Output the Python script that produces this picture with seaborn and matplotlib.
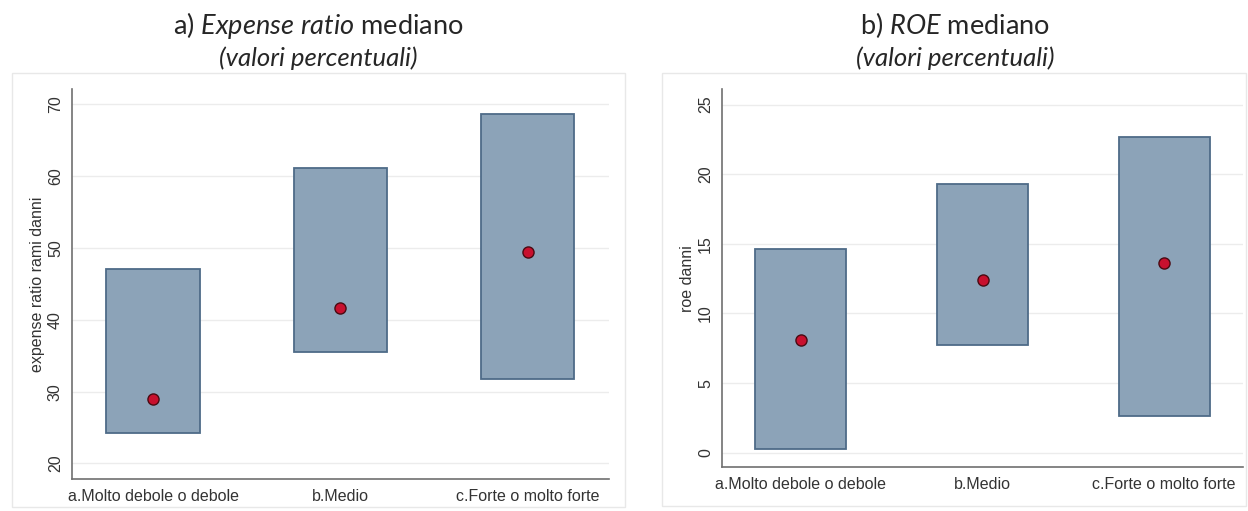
import numpy as np
import seaborn as sns
import matplotlib.pyplot as plt
from matplotlib.patches import Rectangle

# dati (valori percentuali)
categorie = ["a.Molto debole o debole", "b.Medio", "c.Forte o molto forte"]

expense_basso = [24.2, 35.5, 31.8]
expense_alto = [47.1, 61.1, 68.7]
expense_mediana = [29.0, 41.6, 49.5]

roe_basso = [0.25, 7.7, 2.6]
roe_alto = [14.6, 19.3, 22.7]
roe_mediana = [8.1, 12.4, 13.6]

sns.set_style("white")
plt.rcParams["font.family"] = ["Liberation Sans", "DejaVu Sans"]
plt.rcParams["mathtext.fontset"] = "custom"
plt.rcParams["mathtext.rm"] = "Lato"
plt.rcParams["mathtext.it"] = "Lato:italic"

W, H = 1248, 511
fig = plt.figure(figsize=(W / 100, H / 100), dpi=100)


def assi_px(x0, x1, y0, y1):
    return fig.add_axes([x0 / W, 1 - y1 / H, (x1 - x0) / W, (y1 - y0) / H])


def pannello(ax, basso, alto, mediana, ylim, yticks, ylabel):
    altezza = np.array(alto) - np.array(basso)
    sns.barplot(x=categorie, y=altezza, bottom=basso, ax=ax, color="#8ca3b8",
                saturation=1, edgecolor="#4e6b88", linewidth=1.3, width=0.5,
                errorbar=None, zorder=2)
    sns.stripplot(x=categorie, y=mediana, ax=ax, jitter=False, size=8,
                  color="#c8102e", edgecolor="#4a0a12", linewidth=1, zorder=3)
    ax.set_xlim(-0.435, 2.435)
    ax.set_ylim(*ylim)
    ax.set_yticks(yticks)
    ax.grid(axis="y", color="#ececec", lw=1)
    ax.set_axisbelow(True)
    for s in ["top", "right"]:
        ax.spines[s].set_visible(False)
    for s in ["left", "bottom"]:
        ax.spines[s].set_color("#707070")
        ax.spines[s].set_linewidth(1.2)
    ax.tick_params(axis="y", length=4.8, width=1, color="#707070", pad=1.5,
                   labelsize=11.5, labelcolor="#333333")
    ax.tick_params(axis="x", length=0, pad=7, labelsize=11.5, labelcolor="#333333")
    plt.setp(ax.get_yticklabels(), rotation=90, va="center")
    ax.set_xlabel("")
    ax.set_ylabel(ylabel, fontsize=11.5, color="#333333", labelpad=2)


ax1 = assi_px(71.7, 609, 89.3, 479.3)
pannello(ax1, expense_basso, expense_alto, expense_mediana,
         (17.8, 72.1), [20, 30, 40, 50, 60, 70], "expense ratio rami danni")

ax2 = assi_px(721.7, 1243.3, 89.3, 467.3)
pannello(ax2, roe_basso, roe_alto, roe_mediana,
         (-1.05, 26.1), [0, 5, 10, 15, 20, 25], "roe danni")

# cornici leggere delle due aree grafico
for x0, x1, y0, y1 in [(11.7, 625, 73, 507), (661.7, 1246, 73, 506)]:
    fig.patches.append(Rectangle((x0 / W, 1 - y1 / H), (x1 - x0) / W, (y1 - y0) / H,
                                 transform=fig.transFigure, fill=False,
                                 edgecolor="#e8e8e8", lw=1))

# titoli
fig.text(318 / W, 1 - 34 / H, r"a) $\mathit{Expense\ ratio}$ mediano",
         ha="center", va="baseline", fontsize=19.5, family="Lato")
fig.text(318 / W, 1 - 66 / H, "(valori percentuali)", ha="center", va="baseline",
         fontsize=18.5, family="Lato", style="italic")
fig.text(955 / W, 1 - 34 / H, r"b) $\mathit{ROE}$ mediano",
         ha="center", va="baseline", fontsize=19.5, family="Lato")
fig.text(955 / W, 1 - 66 / H, "(valori percentuali)", ha="center", va="baseline",
         fontsize=18.5, family="Lato", style="italic")

plt.savefig("out.png", dpi=100)
